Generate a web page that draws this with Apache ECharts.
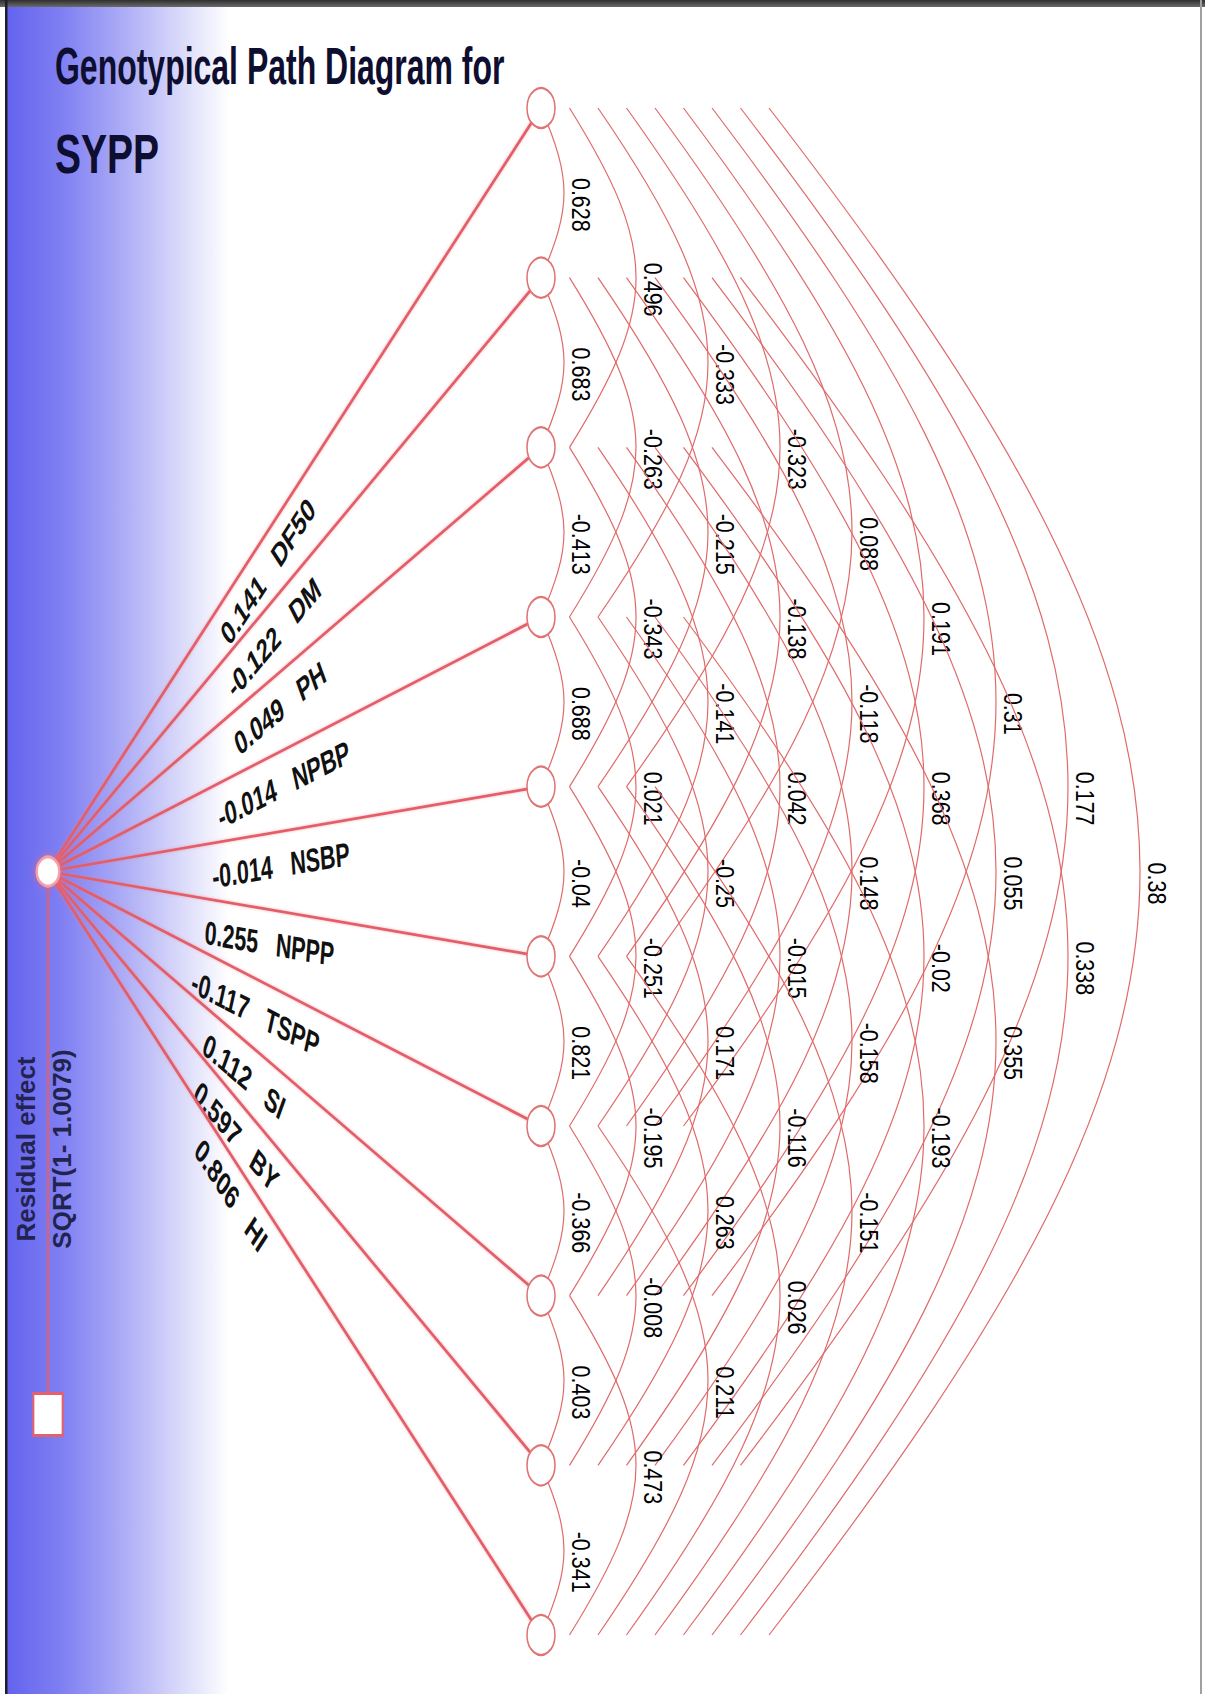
<!DOCTYPE html>
<html>
<head>
<meta charset="utf-8">
<title>Genotypical Path Diagram for SYPP</title>
<script src="https://cdn.jsdelivr.net/npm/echarts/dist/echarts.min.js"></script>
<style>
html,body{margin:0;padding:0;overflow:hidden;background:#fff}
#chart{width:1205px;height:1694px}
</style>
</head>
<body>
<div id="chart"></div>
<script>
// ---------------- data ----------------
const titleLines = ['Genotypical Path Diagram for', 'SYPP'];
const traits = ['DF50', 'DM', 'PH', 'NPBP', 'NSBP', 'NPPP', 'TSPP', 'SI', 'BY', 'HI'];
const directEffects = [0.141, -0.122, 0.049, -0.014, -0.014, 0.255, -0.117, 0.112, 0.597, 0.806];
// correlations of each trait with the traits listed after it
const rDF50 = [0.628, 0.496, -0.333, -0.323, 0.088, 0.191, 0.31, 0.177, 0.38];
const rDM   = [0.683, -0.263, -0.215, -0.138, -0.118, 0.368, 0.055, 0.338];
const rPH   = [-0.413, -0.343, -0.141, 0.042, 0.148, -0.02, 0.355];
const rNPBP = [0.688, 0.021, -0.25, -0.015, -0.158, -0.193];
const rNSBP = [-0.04, -0.251, 0.171, -0.116, -0.151];
const rNPPP = [0.821, -0.195, 0.263, 0.026];
const rTSPP = [-0.366, -0.008, 0.211];
const rSI   = [0.403, 0.473];
const rBY   = [-0.341];
const residualLabel = 'Residual effect';
const residualFormula = 'SQRT(1- 1.0079)';

// ---------------- layout / style ----------------
const X_RESID = 48;        // x of the residual node column (axis units)
const X_TRAIT = 541;       // x of the trait node column
const ARC_STEP = 28.5;     // endpoint shift per correlation distance
const SAG0 = 23, SAG_STEP = 43.5; // arc bulge
const ARC_BETA = 0.42;     // vertical position of the arc control points
const LABEL_GAP = 17, LABEL_DY = 12;
const SQUEEZE = 0.65;      // horizontal condensation of the source lettering
const FONT = 'Liberation Sans, Arial, Helvetica, sans-serif';
const LINE_COLOR = '#e25f6b';
const ARC_COLOR = '#e06a6a';
const NODE_COLOR = '#e07474';

const N = traits.length;
const CENTER = (N - 1) / 2;
const SQUARE_POS = CENTER + 3.2;

const corrRows = [rDF50, rDM, rPH, rNPBP, rNSBP, rNPPP, rTSPP, rSI, rBY];
const corrData = [];
corrRows.forEach((row, i) => row.forEach((r, k) => corrData.push([i, i + 1 + k, r])));
const pathData = traits.map((t, i) => [i, directEffects[i]]);
const nodeData = traits.map((t, i) => [X_TRAIT, i]);

function renderArc(params, api) {
  const item = corrData[params.dataIndex];
  const i = item[0], j = item[1];
  const d = j - i;
  const x0 = X_TRAIT + (d - 1) * ARC_STEP;
  const sag = SAG0 + SAG_STEP * (d - 1);
  const mid = (i + j) / 2;
  const p0 = api.coord([x0, i]);
  const p1 = api.coord([x0, j]);
  const c1 = api.coord([x0 + sag * 4 / 3, i + ARC_BETA * d]);
  const c2 = api.coord([x0 + sag * 4 / 3, j - ARC_BETA * d]);
  const lab = api.coord([x0 + sag + LABEL_GAP, mid]);
  return {
    type: 'group',
    children: [
      {
        type: 'bezierCurve',
        shape: { x1: p0[0], y1: p0[1], x2: p1[0], y2: p1[1], cpx1: c1[0], cpy1: c1[1], cpx2: c2[0], cpy2: c2[1] },
        style: { stroke: ARC_COLOR, fill: null, lineWidth: 1.2 }
      },
      {
        type: 'text',
        x: lab[0], y: lab[1] + LABEL_DY,
        rotation: -Math.PI / 2, scaleX: 0.86,
        style: { text: String(item[2]), fill: '#000', fontSize: 25, fontFamily: FONT, align: 'center', verticalAlign: 'middle' }
      }
    ]
  };
}

function renderPath(params, api) {
  const i = pathData[params.dataIndex][0];
  const L = api.coord([X_RESID, CENTER]);
  const R = api.coord([X_TRAIT, i]);
  const dx = R[0] - L[0], dy = R[1] - L[1];
  const len = Math.hypot(dx, dy);
  const ux = dx / len, uy = dy / len;
  const nx = -uy, ny = ux;
  // label centre: along the path, then pushed to its clockwise side
  const cx = api.coord([218 + 58 * ux, CENTER])[0];
  const off = 8 + 26 * ux;
  const t = (cx - L[0]) / dx;
  const ax = L[0] + t * dx + off * nx;
  const ay = L[1] + t * dy + off * ny;
  const rot = -Math.atan2(dy, dx / SQUEEZE);
  const text = String(directEffects[i]) + '\u00a0\u00a0\u00a0' + traits[i];
  return {
    type: 'group',
    children: [
      {
        type: 'line',
        shape: { x1: L[0], y1: L[1], x2: R[0], y2: R[1] },
        style: { stroke: LINE_COLOR, lineWidth: 2.7, shadowBlur: 3, shadowColor: 'rgba(245,120,130,0.55)' }
      },
      {
        type: 'group', x: ax, y: ay, scaleX: SQUEEZE,
        children: [{
          type: 'text', rotation: rot,
          style: { text: text, fill: '#111', fontSize: 33, fontWeight: 'bold', fontFamily: FONT, align: 'center', verticalAlign: 'middle' }
        }]
      }
    ]
  };
}

function renderNode(params, api) {
  const p = api.coord([api.value(0), api.value(1)]);
  return {
    type: 'circle', x: p[0], y: p[1], scaleX: 0.7,
    shape: { cx: 0, cy: 0, r: 20 },
    style: { fill: '#fff', stroke: NODE_COLOR, lineWidth: 2.2 }
  };
}

function renderResidual(params, api) {
  const c = api.coord([X_RESID, CENTER]);
  const s = api.coord([X_RESID, SQUARE_POS]);
  const ty = (c[1] + s[1]) / 2 + 6;
  return {
    type: 'group',
    children: [
      { type: 'line', shape: { x1: c[0], y1: c[1], x2: s[0], y2: s[1] }, style: { stroke: LINE_COLOR, lineWidth: 2.2 } },
      {
        type: 'circle', x: c[0], y: c[1], scaleX: 0.78,
        shape: { cx: 0, cy: 0, r: 14.5 },
        style: { fill: '#fff', stroke: '#f4a1aa', lineWidth: 3, shadowBlur: 6, shadowColor: 'rgba(240,100,115,0.8)' }
      },
      {
        type: 'rect', x: s[0], y: s[1], scaleX: 0.7,
        shape: { x: -21, y: -21, width: 42, height: 42 },
        style: { fill: '#fff', stroke: '#e2616c', lineWidth: 3 }
      },
      {
        type: 'text', x: c[0] - 22, y: ty, rotation: Math.PI / 2,
        style: { text: residualLabel, fill: '#23234f', fontSize: 26, fontWeight: 'bold', fontFamily: FONT, align: 'center', verticalAlign: 'middle' }
      },
      {
        type: 'text', x: c[0] + 14, y: ty, rotation: Math.PI / 2,
        style: { text: residualFormula, fill: '#23234f', fontSize: 26, fontWeight: 'bold', fontFamily: FONT, align: 'center', verticalAlign: 'middle' }
      }
    ]
  };
}

const chart = echarts.init(document.getElementById('chart'), null, { renderer: 'svg', width: 1205, height: 1694 });
chart.setOption({
  backgroundColor: '#ffffff',
  animation: false,
  grid: { left: 0, right: 0, top: 108, bottom: 59 },
  xAxis: { type: 'value', min: 0, max: 1205, show: false },
  yAxis: { type: 'value', min: 0, max: N - 1, inverse: true, show: false },
  graphic: [
    {
      type: 'rect', z: -10, silent: true,
      shape: { x: 7, y: 0, width: 222, height: 1694 },
      style: {
        fill: {
          type: 'linear', x: 0, y: 0, x2: 1, y2: 0,
          colorStops: [
            { offset: 0, color: '#6363ee' },
            { offset: 0.25, color: '#8080f3' },
            { offset: 0.5, color: '#a8a8f6' },
            { offset: 0.75, color: '#d4d4fa' },
            { offset: 1, color: '#ffffff' }
          ]
        }
      }
    },
    { type: 'rect', z: -5, silent: true, shape: { x: 0, y: 0, width: 1205, height: 7 },
      style: { fill: { type: 'linear', x: 0, y: 0, x2: 0, y2: 1, colorStops: [{ offset: 0, color: '#2f2f2f' }, { offset: 1, color: '#6b6b6b' }] } } },
    { type: 'rect', z: -5, silent: true, shape: { x: 5, y: 0, width: 2.5, height: 1694 }, style: { fill: '#1d1d2b' } },
    { type: 'rect', z: -5, silent: true, shape: { x: 1200, y: 0, width: 2, height: 1694 }, style: { fill: '#a0a0a0' } },
    {
      type: 'text', z: 10, x: 55, y: 66, scaleX: 0.615,
      style: { text: titleLines[0], fill: '#0e0e30', fontSize: 52, fontWeight: 'bold', fontFamily: FONT, align: 'left', verticalAlign: 'middle' }
    },
    {
      type: 'text', z: 10, x: 55, y: 154, scaleX: 0.71,
      style: { text: titleLines[1], fill: '#0e0e30', fontSize: 55, fontWeight: 'bold', fontFamily: FONT, align: 'left', verticalAlign: 'middle' }
    }
  ],
  series: [
    { type: 'custom', name: 'correlations', z: 2, data: corrData, renderItem: renderArc, silent: true },
    { type: 'custom', name: 'direct effects', z: 3, data: pathData, renderItem: renderPath, silent: true },
    { type: 'custom', name: 'traits', z: 4, data: nodeData, renderItem: renderNode, silent: true },
    { type: 'custom', name: 'residual', z: 4, data: [[X_RESID, CENTER]], renderItem: renderResidual, silent: true }
  ]
});
</script>
</body>
</html>
